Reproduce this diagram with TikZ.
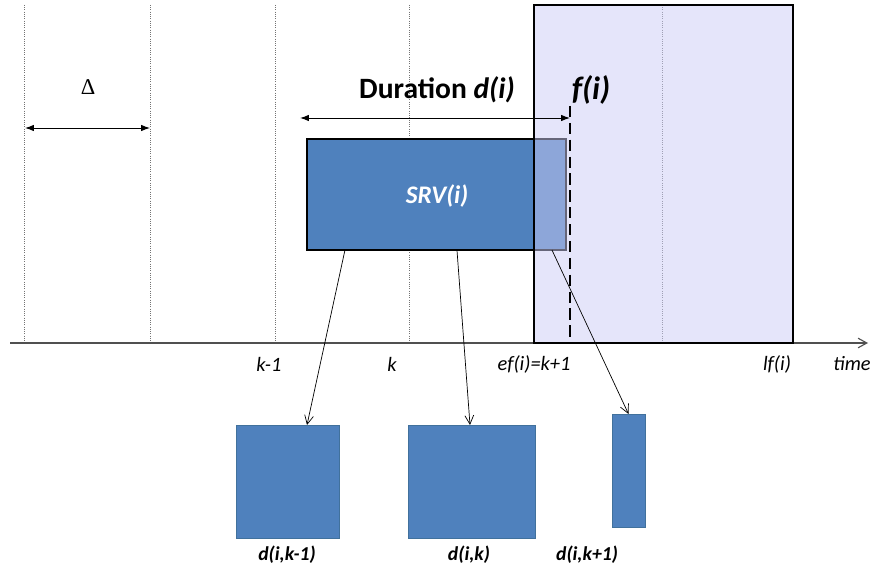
\documentclass[tikz,border=0pt]{standalone}
\usepackage{fontspec}
\setmainfont{Carlito}
\newfontfamily\deltafont{Liberation Serif}
\usetikzlibrary{arrows.meta,positioning,calc}

\definecolor{srvblue}{HTML}{4F81BD}
\definecolor{srvedge}{HTML}{41719C}
\definecolor{windowfill}{HTML}{CCCCF5}
\definecolor{axisgray}{HTML}{505050}

\begin{document}
\begin{tikzpicture}[
  x=0.025cm, y=-0.025cm,
  grid/.style={densely dotted, black!55, line width=0.6pt},
  axis/.style={-{Straight Barb[length=2.2mm,width=2.4mm]}, axisgray, line width=0.8pt},
  span/.style={{Latex[length=2.2mm,width=1.6mm]}-{Latex[length=2.2mm,width=1.6mm]}, line width=0.7pt},
  share/.style={-{Straight Barb[length=2.2mm,width=2.2mm]}, line width=0.5pt},
  srvbox/.style={draw, line width=1.3pt, fill=srvblue, inner sep=0pt, outer sep=0pt},
  window/.style={fill=windowfill, fill opacity=0.5, inner sep=0pt, outer sep=0pt},
  piece/.style={draw=srvedge, line width=0.5pt, fill=srvblue, inner sep=0pt, outer sep=0pt,
                minimum height=2.825cm},
  ticklab/.style={font=\fontsize{14.5}{16}\selectfont\itshape, inner sep=1pt},
  piecelab/.style={font=\fontsize{14}{16}\selectfont\bfseries\itshape, inner sep=1pt},
  biglab/.style={font=\fontsize{21}{24}\selectfont\bfseries, inner sep=1pt}
]
\useasboundingbox (0,0) rectangle (873,571);

% ---------------------------------------------------------------------------
% Time grid and axis
% ---------------------------------------------------------------------------
\foreach \gx/\gname in {24/g0, 150/g1, 275/g2, 409/g3, 662/g5} {
  \coordinate (\gname) at (\gx,343);
  \draw[grid] (\gx,5) -- (\gname);
}
\coordinate (axL) at (10,343);
\coordinate (axR) at (868,343);
\draw[axis] (axL) -- (axR);

% ---------------------------------------------------------------------------
% Service block and the finish window
% ---------------------------------------------------------------------------
\node[srvbox, minimum width=6.475cm, minimum height=2.775cm] (srv) at (436.5,194.5) {};
\node[font=\fontsize{18}{20}\selectfont\bfseries\itshape, text=white] (srvlab) at (437,196) {SRV(i)};

\node[window, minimum width=6.475cm, minimum height=8.45cm] (win) at (663.5,174) {};
\draw[line width=1.4pt] (win.south west) rectangle (win.north east);

% finish time marker
\coordinate (fTop) at (570,106);
\coordinate (fBot) at (570,343);
\draw[dashed, line width=1.6pt, dash pattern=on 8pt off 4pt] (fTop) -- (fBot);
\node[biglab, font=\fontsize{23}{26}\selectfont\bfseries\itshape] (flab) at (591,90) {f(i)};

% ---------------------------------------------------------------------------
% Spans: interval length and duration
% ---------------------------------------------------------------------------
\coordinate (dL) at (25,128);
\coordinate (dR) at (150,128);
\draw[span] (dL) -- (dR);
\node[font=\deltafont\fontsize{16}{18}\selectfont] (deltalab) at (88,87) {Δ};

\coordinate (durL) at (300,118);
\coordinate (durR) at (570,118);
\draw[span] (durL) -- (durR);
\node[biglab] (durlab) at (437,90) {Duration \textit{d(i)}};

% ---------------------------------------------------------------------------
% Axis labels
% ---------------------------------------------------------------------------
\node[ticklab] (lk1) at (269,364) {k-1};
\node[ticklab] (lk) at (392,364) {k};
\node[ticklab] (lef) at (534,364) {ef(i)=k+1};
\node[ticklab] (llf) at (777,364) {lf(i)};
\node[ticklab] (ltime) at (852,364) {time};

% ---------------------------------------------------------------------------
% Split of the duration over the periods
% ---------------------------------------------------------------------------
\node[piece, minimum width=2.575cm] (pk1) at (287.5,481.5) {};
\node[piece, minimum width=3.175cm] (pk) at (471.5,481.5) {};
\node[piece, minimum width=0.825cm] (pk2) at (628.5,470.5) {};

\node[piecelab] (lpk1) at (287,555) {d(i,k-1)};
\node[piecelab] (lpk) at (469,555) {d(i,k)};
\node[piecelab] (lpk2) at (587,555) {d(i,k+1)};

\draw[share] ($(srv.south west)+(38,0)$) -- ($(pk1.north)+(19.5,0)$);
\draw[share] ($(srv.south west)+(150,0)$) -- ($(pk.north)+(-1.5,0)$);
\draw[share] ($(srv.south west)+(245,0)$) -- (pk2.north);

\end{tikzpicture}
\end{document}
